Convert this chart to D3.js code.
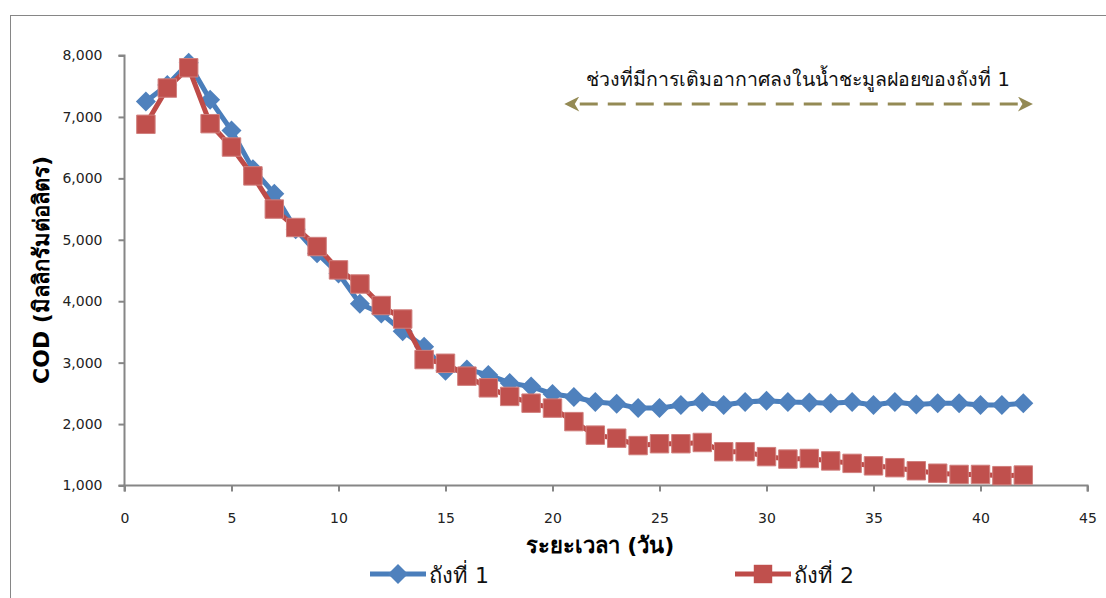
<!DOCTYPE html>
<html><head><meta charset="utf-8">
<script src="https://cdn.jsdelivr.net/npm/d3@7"></script>
<style>body{margin:0;background:#fff;} svg{display:block;}</style>
</head><body>
<svg id="chart" width="1106" height="598"></svg>
<script>
const days = [1,2,3,4,5,6,7,8,9,10,11,12,13,14,15,16,17,18,19,20,21,22,23,24,25,26,27,28,29,30,31,32,33,34,35,36,37,38,39,40,41,42];
const tank1 = [7250,7520,7880,7280,6780,6150,5750,5170,4780,4450,3960,3800,3510,3260,2870,2890,2800,2670,2610,2490,2440,2360,2330,2260,2260,2310,2360,2310,2360,2380,2360,2350,2340,2360,2310,2360,2320,2340,2340,2310,2310,2340];
const tank2 = [6880,7470,7800,6890,6510,6040,5500,5200,4890,4510,4280,3930,3710,3050,2990,2780,2590,2450,2340,2260,2040,1820,1770,1650,1680,1680,1700,1550,1550,1470,1430,1440,1400,1360,1320,1290,1240,1200,1180,1180,1160,1170];
const xTicks = [0,5,10,15,20,25,30,35,40,45];
const yTicks = [1000,2000,3000,4000,5000,6000,7000,8000];
const seriesNames = ["ถังที่ 1","ถังที่ 2"];
const yTitle = "COD (มิลลิกรัมต่อลิตร)";
const xTitle = "ระยะเวลา (วัน)";
const note = "ช่วงที่มีการเติมอากาศลงในน้ำชะมูลฝอยของถังที่ 1";
const noteRange = [20.9, 42.1];
const noteLevel = 7210;

const svg = d3.select("#chart");
const thai = "'Tahoma','DejaVu Sans','Noto Sans',sans-serif";
const axisFont = "'DejaVu Sans',sans-serif";

// outer chart border
svg.append("rect").attr("x",10.5).attr("y",15.5).attr("width",1200).attr("height",700)
  .attr("fill","none").attr("stroke","#868686").attr("stroke-width",1);

const x = d3.scaleLinear().domain([0,45]).range([124.5,1087.5]);
const y = d3.scaleLinear().domain([1000,8000]).range([485.5,55.5]);

const gx = svg.append("g").attr("transform","translate(0,485.5)")
  .call(d3.axisBottom(x).tickValues(xTicks).tickSize(6).tickPadding(22).tickFormat(d3.format("d")));
const gy = svg.append("g").attr("transform","translate(124.5,0)")
  .call(d3.axisLeft(y).tickValues(yTicks).tickSize(6).tickPadding(16).tickFormat(d3.format(",")));
[gx,gy].forEach(g=>{
  g.selectAll("path,line").attr("stroke","#868686").attr("stroke-width",2);
  g.selectAll("text").attr("font-family",axisFont).attr("font-size",14).attr("fill","#222");
});
gx.select(".domain").attr("d","M124.5,6V0H1087.5V6");
gy.select(".domain").attr("d","M-6,55.5H0V485.5H-6");

// axis titles
svg.append("text").attr("transform","translate(41,270) rotate(-90)").attr("text-anchor","middle")
  .attr("dy","0.35em")
  .attr("font-family",thai).attr("font-weight","bold").attr("font-size",22).attr("fill","#000").text(yTitle);
svg.append("text").attr("x",600).attr("y",553).attr("text-anchor","middle")
  .attr("font-family",thai).attr("font-weight","bold").attr("font-size",22).attr("fill","#000").text(xTitle);

const colors = [{line:"#4A7EBB",fill:"#4F81BD"},{line:"#BE4B48",fill:"#C0504D"}];
const datasets = [tank1,tank2];
const line = d3.line().x((d,i)=>x(days[i])).y(d=>y(d));

datasets.forEach((data,k)=>{
  const g = svg.append("g");
  g.append("path").datum(data).attr("d",line).attr("fill","none")
    .attr("stroke",colors[k].line).attr("stroke-width",5).attr("stroke-linejoin","round");
  g.selectAll("path.m").data(data).join("path").attr("class","m")
    .attr("transform",(d,i)=>`translate(${x(days[i])},${y(d)})${k===0?" rotate(45)":""}`)
    .attr("d",d3.symbol().type(d3.symbolSquare).size(k===0?200:340)())
    .attr("fill",colors[k].fill)
    .attr("stroke",k===0?"none":"#D07F7D").attr("stroke-width",1);
});

// annotation
svg.append("text").attr("x",798).attr("y",86).attr("text-anchor","middle")
  .attr("font-family",thai).attr("font-size",19.5).attr("fill","#111").text(note);
const defs = svg.append("defs");
defs.append("marker").attr("id","arr").attr("viewBox","0 0 10 10").attr("refX",5).attr("refY",5)
  .attr("markerWidth",5.5).attr("markerHeight",5).attr("orient","auto-start-reverse").attr("markerUnits","strokeWidth")
  .append("path").attr("d","M0,0L10,5L0,10L3,5Z").attr("fill","#948A54");
svg.append("line").attr("x1",x(noteRange[0])).attr("x2",x(noteRange[1])).attr("y1",y(noteLevel)).attr("y2",y(noteLevel))
  .attr("stroke","#948A54").attr("stroke-width",3).attr("stroke-dasharray","18,10").attr("stroke-dashoffset",-8)
  .attr("marker-start","url(#arr)").attr("marker-end","url(#arr)");

// legend
const legend = [{x:370,k:0},{x:735,k:1}];
legend.forEach(l=>{
  const g = svg.append("g");
  g.append("line").attr("x1",l.x).attr("x2",l.x+56).attr("y1",574).attr("y2",574)
    .attr("stroke",colors[l.k].line).attr("stroke-width",5);
  g.append("path").attr("transform",`translate(${l.x+28},574)${l.k===0?" rotate(45)":""}`)
    .attr("d", d3.symbol().type(d3.symbolSquare).size(l.k===0?200:340)())
    .attr("fill",colors[l.k].fill);
  g.append("text").attr("x",l.x+59).attr("y",583).attr("font-family",thai).attr("font-size",22)
    .attr("fill","#111").text(seriesNames[l.k]);
});
</script>
</body></html>
